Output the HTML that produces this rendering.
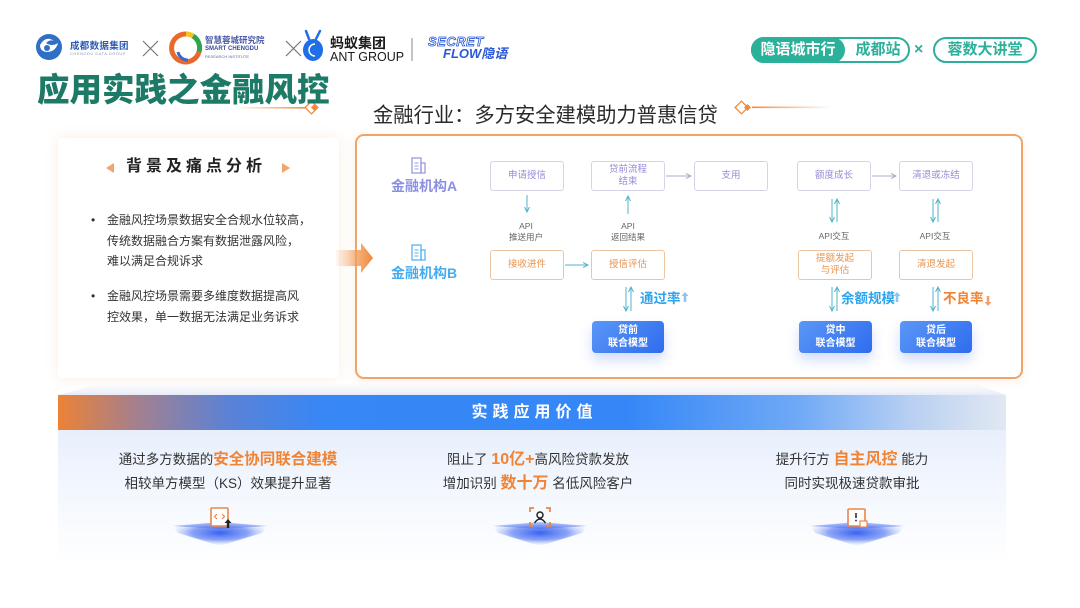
<!DOCTYPE html>
<html><head><meta charset="utf-8">
<style>
*{margin:0;padding:0;box-sizing:border-box}
html,body{width:1080px;height:608px;overflow:hidden;background:#fff}
body{position:relative;font-family:"Liberation Sans","Noto Sans CJK SC",sans-serif;color:#333}
.a{position:absolute}
.bx{position:absolute;border:1px solid #d3d4e8;border-radius:3px;background:#fff;display:flex;align-items:center;justify-content:center;text-align:center;font-size:9.5px;line-height:12px;color:#968cd6}
.bo{border-color:#ecc6a4;color:#e8934e}
.btn{position:absolute;border-radius:4px;background:linear-gradient(135deg,#5a97f7,#2f6cee);color:#fff;font-weight:bold;font-size:10px;line-height:13px;display:flex;align-items:center;justify-content:center;text-align:center;box-shadow:0 7px 12px rgba(70,120,240,0.25)}
.api{position:absolute;font-size:8.5px;line-height:11px;color:#666;text-align:center;width:60px}
.ctr{position:absolute;text-align:center;white-space:nowrap}
.or{color:#f08334;font-weight:bold}
</style></head><body>

<!-- logos -->
<svg class="a" style="left:0;top:0" width="1080" height="130">
  <circle cx="49" cy="47" r="13" fill="#2f6fc6"/>
  <path d="M40 45 q6 -10 14 -4 q-4 -2 -8 2 q6 4 12 0 q-2 8 -10 9 q-8 0 -8 -7z" fill="#fff"/>
  <circle cx="47" cy="48" r="3" fill="#2f6fc6"/>
  <line x1="143" y1="41" x2="158" y2="56" stroke="#777" stroke-width="1.2"/>
  <line x1="158" y1="41" x2="143" y2="56" stroke="#777" stroke-width="1.2"/>
  <path d="M186 34 a14 14 0 1 0 13 18" fill="none" stroke="#e8692c" stroke-width="5"/>
  <path d="M199 52 a14 14 0 0 0 -6 -16" fill="none" stroke="#2fa44a" stroke-width="5"/>
  <path d="M193 36 a14 14 0 0 0 -7 -2" fill="none" stroke="#f5c21b" stroke-width="5"/>
  <path d="M178 52 a10 10 0 0 0 10 8" fill="none" stroke="#3b66c8" stroke-width="3"/>
  <line x1="286" y1="41" x2="301" y2="56" stroke="#777" stroke-width="1.2"/>
  <line x1="301" y1="41" x2="286" y2="56" stroke="#777" stroke-width="1.2"/>
  <ellipse cx="313" cy="50" rx="10" ry="11" fill="#1f6fe8"/>
  <line x1="309" y1="39" x2="306" y2="31" stroke="#1f6fe8" stroke-width="2.5" stroke-linecap="round"/>
  <line x1="316" y1="39" x2="320" y2="31" stroke="#1f6fe8" stroke-width="2.5" stroke-linecap="round"/>
  <path d="M315 44 a6 6 0 1 0 0 12" fill="none" stroke="#fff" stroke-width="1.5"/>
  <line x1="412" y1="38" x2="412" y2="61" stroke="#888" stroke-width="1"/>
  <defs>
    <linearGradient id="ol" x1="0" x2="1"><stop offset="0" stop-color="#f08a3c" stop-opacity="0"/><stop offset="1" stop-color="#f08a3c"/></linearGradient>
    <linearGradient id="ol2" x1="0" x2="1"><stop offset="0" stop-color="#f08a3c"/><stop offset="1" stop-color="#f08a3c" stop-opacity="0"/></linearGradient>
  </defs>
  <rect x="235" y="107" width="72" height="1.6" fill="url(#ol)"/>
  <rect x="307" y="103" width="9" height="9" transform="rotate(45 311.5 107.5)" fill="#fff" stroke="#f08a3c" stroke-width="1.3"/>
  <rect x="312" y="105" width="5" height="5" transform="rotate(45 314.5 107.5)" fill="#f08a3c"/>
  <rect x="752" y="106.5" width="80" height="1.6" fill="url(#ol2)"/>
  <rect x="737" y="103" width="9" height="9" transform="rotate(45 741.5 107.5)" fill="#fff" stroke="#f08a3c" stroke-width="1.3"/>
  <rect x="745" y="105" width="5" height="5" transform="rotate(45 747.5 107.5)" fill="#f08a3c"/>
</svg>
<div class="a" style="left:70px;top:38px;font-size:9.5px;font-weight:bold;color:#2c5cb4;letter-spacing:0.3px">成都数据集团</div>
<div class="a" style="left:70px;top:51px;font-size:4px;color:#8a9ac0;letter-spacing:0.5px">CHENGDU DATA GROUP</div>
<div class="a" style="left:205px;top:34px;font-size:8.5px;color:#4a5aa8;font-weight:bold">智慧蓉城研究院</div>
<div class="a" style="left:205px;top:46px;font-size:6px;color:#3a4a98;font-weight:bold">SMART CHENGDU</div>
<div class="a" style="left:205px;top:54px;font-size:4px;color:#5a6aa8">RESEARCH INSTITUTE</div>
<div class="a" style="left:330px;top:35px;font-size:14px;font-weight:bold;color:#1a1a1a;line-height:16px">蚂蚁集团</div>
<div class="a" style="left:330px;top:50px;font-size:12.5px;color:#1a1a1a;line-height:14px">ANT GROUP</div>
<div class="a" style="left:428px;top:34px;font-size:13px;font-style:italic;font-weight:bold;color:#fff;-webkit-text-stroke:0.8px #2a58d6;line-height:15px;letter-spacing:0.5px">SECRET</div>
<div class="a" style="left:443px;top:46px;font-size:13px;font-style:italic;font-weight:bold;color:#2a58d6;line-height:15px">FLOW隐语</div>

<!-- top-right pills -->
<div class="a" style="left:751px;top:37px;width:159px;height:26px;border:2px solid #2bb09a;border-radius:13px;background:#fff"></div>
<div class="a" style="left:751px;top:37px;width:94px;height:26px;background:#2bb09a;border-radius:13px;color:#fff;font-weight:bold;font-size:15px;line-height:26px;text-align:center">隐语城市行</div>
<div class="a" style="left:848px;top:37px;width:60px;height:26px;color:#2bb09a;font-weight:bold;font-size:15px;line-height:26px;text-align:center">成都站</div>
<div class="a" style="left:914px;top:37px;font-size:16px;font-weight:bold;color:#2bb09a;line-height:26px">×</div>
<div class="a" style="left:933px;top:37px;width:104px;height:26px;border:2px solid #2bb09a;border-radius:13px;color:#2bb09a;font-weight:bold;font-size:15px;line-height:22px;text-align:center">蓉数大讲堂</div>

<!-- title -->
<div class="a" style="left:37px;top:70px;font-size:32.5px;font-weight:900;color:#1c7a67;line-height:40px">应用实践之金融风控</div>
<div class="a" style="left:373px;top:103px;font-size:20.3px;color:#2a2a2a;line-height:26px">金融行业：多方安全建模助力普惠信贷</div>

<!-- left panel -->
<div class="a" style="left:58px;top:138px;width:281px;height:240px;background:#fff;border-radius:4px;box-shadow:0 0 14px rgba(240,150,90,0.18)"></div>
<svg class="a" style="left:104px;top:160px" width="190" height="16">
  <polygon points="2,8 10,3 10,13" fill="#f3a36e"/>
  <polygon points="186,8 178,3 178,13" fill="#f3a36e"/>
</svg>
<div class="a" style="left:126px;top:156px;font-size:16px;font-weight:bold;color:#222;letter-spacing:4px;line-height:22px">背景及痛点分析</div>
<div class="a" style="left:91px;top:210px;font-size:12px;color:#333;line-height:20.7px">
  <div style="position:relative;padding-left:16px">
    <span style="position:absolute;left:0;top:0">•</span>金融风控场景数据安全合规水位较高，<br>传统数据融合方案有数据泄露风险，<br>难以满足合规诉求
  </div>
  <div style="position:relative;padding-left:16px;margin-top:14px">
    <span style="position:absolute;left:0;top:0">•</span>金融风控场景需要多维度数据提高风<br>控效果，单一数据无法满足业务诉求
  </div>
</div>

<!-- right panel -->
<div class="a" style="left:355px;top:134px;width:668px;height:245px;border:2px solid #f0a468;border-radius:9px;background:#fff;box-shadow:0 2px 10px rgba(240,150,90,0.15)"></div>

<!-- arrow between panels (on top) -->
<svg class="a" style="left:336px;top:240px" width="40" height="36">
  <defs><linearGradient id="ar" x1="0" x2="1"><stop offset="0" stop-color="#f7b080" stop-opacity="0.1"/><stop offset="0.6" stop-color="#f39a55" stop-opacity="0.8"/><stop offset="1" stop-color="#f0873a"/></linearGradient></defs>
  <polygon points="0,10 25,10 25,3 37,18 25,33 25,26 0,26" fill="url(#ar)"/>
</svg>

<!-- institution labels -->
<svg class="a" style="left:411px;top:157px" width="16" height="18">
  <rect x="1" y="1" width="9" height="15" fill="none" stroke="#9a9ae0" stroke-width="1.3"/>
  <rect x="10" y="6" width="4" height="10" fill="none" stroke="#9a9ae0" stroke-width="1.3"/>
  <line x1="3.5" y1="6" x2="7.5" y2="6" stroke="#9a9ae0"/><line x1="3.5" y1="9" x2="7.5" y2="9" stroke="#9a9ae0"/><line x1="3.5" y1="12" x2="7.5" y2="12" stroke="#9a9ae0"/>
</svg>
<div class="a" style="left:391px;top:177px;font-size:14px;font-weight:bold;color:#8b8fe0;line-height:18px">金融机构A</div>
<svg class="a" style="left:411px;top:244px" width="16" height="18">
  <rect x="1" y="1" width="9" height="15" fill="none" stroke="#5ab4ee" stroke-width="1.3"/>
  <rect x="10" y="6" width="4" height="10" fill="none" stroke="#5ab4ee" stroke-width="1.3"/>
  <line x1="3.5" y1="6" x2="7.5" y2="6" stroke="#5ab4ee"/><line x1="3.5" y1="9" x2="7.5" y2="9" stroke="#5ab4ee"/><line x1="3.5" y1="12" x2="7.5" y2="12" stroke="#5ab4ee"/>
</svg>
<div class="a" style="left:391px;top:264px;font-size:14px;font-weight:bold;color:#45acf0;line-height:18px">金融机构B</div>

<!-- row A -->
<div class="bx" style="left:490px;top:161px;width:74px;height:30px">申请授信</div>
<div class="bx" style="left:591px;top:161px;width:74px;height:30px">贷前流程<br>结束</div>
<div class="bx" style="left:694px;top:161px;width:74px;height:30px">支用</div>
<div class="bx" style="left:797px;top:161px;width:74px;height:30px">额度成长</div>
<div class="bx" style="left:899px;top:161px;width:74px;height:30px">清退或冻结</div>
<!-- row B -->
<div class="bx bo" style="left:490px;top:250px;width:74px;height:30px">接收进件</div>
<div class="bx bo" style="left:591px;top:250px;width:74px;height:30px">授信评估</div>
<div class="bx bo" style="left:798px;top:250px;width:74px;height:30px">提额发起<br>与评估</div>
<div class="bx bo" style="left:899px;top:250px;width:74px;height:30px">清退发起</div>

<div class="api" style="left:496px;top:221px">API<br>推送用户</div>
<div class="api" style="left:598px;top:221px">API<br>返回结果</div>
<div class="api" style="left:804px;top:231px">API交互</div>
<div class="api" style="left:905px;top:231px">API交互</div>

<!-- connectors -->
<svg class="a" style="left:0;top:0" width="1080" height="608">
  <defs>
    <marker id="mt" markerWidth="6" markerHeight="6" refX="5" refY="3" orient="auto" markerUnits="userSpaceOnUse"><path d="M0,0.5 L5,3 L0,5.5" fill="none" stroke="#4fb4c8" stroke-width="1"/></marker>
    <marker id="mg" markerWidth="6" markerHeight="6" refX="5" refY="3" orient="auto" markerUnits="userSpaceOnUse"><path d="M0,0.5 L5,3 L0,5.5" fill="none" stroke="#a8acc4" stroke-width="1"/></marker>
  </defs>
  <g stroke-width="1" fill="none">
    <line x1="666" y1="176" x2="691" y2="176" stroke="#a8acc4" marker-end="url(#mg)"/>
    <line x1="872" y1="176" x2="896" y2="176" stroke="#a8acc4" marker-end="url(#mg)"/>
    <line x1="565" y1="265" x2="588" y2="265" stroke="#4fb4c8" marker-end="url(#mt)"/>
    <line x1="527" y1="195" x2="527" y2="212" stroke="#4fb4c8" marker-end="url(#mt)"/>
    <line x1="628" y1="214" x2="628" y2="196" stroke="#4fb4c8" marker-end="url(#mt)"/>
    <line x1="832" y1="199" x2="832" y2="222" stroke="#4fb4c8" marker-end="url(#mt)"/>
    <line x1="837" y1="222" x2="837" y2="199" stroke="#4fb4c8" marker-end="url(#mt)"/>
    <line x1="933" y1="199" x2="933" y2="222" stroke="#4fb4c8" marker-end="url(#mt)"/>
    <line x1="938" y1="222" x2="938" y2="199" stroke="#4fb4c8" marker-end="url(#mt)"/>
    <line x1="626" y1="287" x2="626" y2="311" stroke="#4fb4c8" marker-end="url(#mt)"/>
    <line x1="631" y1="311" x2="631" y2="287" stroke="#4fb4c8" marker-end="url(#mt)"/>
    <line x1="832" y1="287" x2="832" y2="311" stroke="#4fb4c8" marker-end="url(#mt)"/>
    <line x1="837" y1="311" x2="837" y2="287" stroke="#4fb4c8" marker-end="url(#mt)"/>
    <line x1="933" y1="287" x2="933" y2="311" stroke="#4fb4c8" marker-end="url(#mt)"/>
    <line x1="938" y1="311" x2="938" y2="287" stroke="#4fb4c8" marker-end="url(#mt)"/>
  </g>
  <path d="M685 292 l-3.5 4 h2.2 v6 h2.6 v-6 h2.2z" fill="#8cc6f0"/>
  <path d="M897 292 l-3.5 4 h2.2 v6 h2.6 v-6 h2.2z" fill="#8cc6f0"/>
  <path d="M988 306 l-3.5 -4 h2.2 v-6 h2.6 v6 h2.2z" fill="#f5a070"/>
</svg>
<div class="a" style="left:640px;top:290px;font-size:13.5px;font-weight:bold;color:#2ea4ec;line-height:18px">通过率</div>
<div class="a" style="left:841px;top:290px;font-size:13.5px;font-weight:bold;color:#2ea4ec;line-height:18px">余额规模</div>
<div class="a" style="left:943px;top:290px;font-size:13.5px;font-weight:bold;color:#f08334;line-height:18px">不良率</div>

<div class="btn" style="left:592px;top:321px;width:72px;height:32px">贷前<br>联合模型</div>
<div class="btn" style="left:799px;top:321px;width:73px;height:32px">贷中<br>联合模型</div>
<div class="btn" style="left:900px;top:321px;width:72px;height:32px">贷后<br>联合模型</div>

<!-- bottom section -->
<svg class="a" style="left:0;top:378px" width="1080" height="20">
  <defs><linearGradient id="tp" x1="0" y1="0" x2="0" y2="1"><stop offset="0" stop-color="#f4f6fb" stop-opacity="0.3"/><stop offset="1" stop-color="#e6ebf6"/></linearGradient></defs>
  <polygon points="58,17 100,6 975,6 1006,17" fill="url(#tp)"/>
</svg>
<div class="a" style="left:58px;top:430px;width:948px;height:135px;background:linear-gradient(to bottom,#e8effc 0%,#f3f7fe 45%,#ffffff 100%)"></div>
<div class="a" style="left:58px;top:395px;width:948px;height:35px;background:linear-gradient(to right,#ec8236 0%,#a6808c 8%,#5b82d6 18%,#3787f6 28%,#3587f7 60%,#6fa9f6 78%,#b8d0f2 90%,#e2e8f2 100%);color:#fff;font-weight:bold;font-size:16px;letter-spacing:5px;line-height:35px;text-align:center;padding-left:5px">实践应用价值</div>

<div class="ctr" style="left:78px;width:300px;top:449px;font-size:13.5px;line-height:22px">通过多方数据的<span class="or" style="font-size:15.5px">安全协同联合建模</span></div>
<div class="ctr" style="left:78px;width:300px;top:473px;font-size:13.5px;line-height:22px">相较单方模型（KS）效果提升显著</div>
<div class="ctr" style="left:388px;width:300px;top:449px;font-size:13.5px;line-height:22px">阻止了 <span class="or" style="font-size:16px">10亿+</span>高风险贷款发放</div>
<div class="ctr" style="left:388px;width:300px;top:473px;font-size:13.5px;line-height:22px">增加识别 <span class="or" style="font-size:16px">数十万</span> 名低风险客户</div>
<div class="ctr" style="left:702px;width:300px;top:449px;font-size:13.5px;line-height:22px">提升行方 <span class="or" style="font-size:16px">自主风控</span> 能力</div>
<div class="ctr" style="left:702px;width:300px;top:473px;font-size:13.5px;line-height:22px">同时实现极速贷款审批</div>

<!-- icons with platforms -->
<svg class="a" style="left:0;top:500px" width="1080" height="60">
  <defs>
    <radialGradient id="pf" cx="0.5" cy="0.45" r="0.55"><stop offset="0" stop-color="#3a62ee"/><stop offset="0.55" stop-color="#6f8ef5" stop-opacity="0.8"/><stop offset="1" stop-color="#c8d4fb" stop-opacity="0"/></radialGradient>
    <linearGradient id="pt" x1="0" y1="0" x2="0" y2="1"><stop offset="0" stop-color="#9fb3f7"/><stop offset="1" stop-color="#4a6ef0"/></linearGradient>
  </defs>
  <polygon points="173,26 220,22 267,26 262,33 220,46 178,33" fill="url(#pf)"/>
  <polygon points="173,26 220,22 267,26 220,29" fill="url(#pt)" opacity="0.6"/>
  <polygon points="493,26 540,22 587,26 582,33 540,46 498,33" fill="url(#pf)"/>
  <polygon points="493,26 540,22 587,26 540,29" fill="url(#pt)" opacity="0.6"/>
  <polygon points="810,26 857,22 904,26 899,33 857,46 815,33" fill="url(#pf)"/>
  <polygon points="810,26 857,22 904,26 857,29" fill="url(#pt)" opacity="0.6"/>
  <rect x="211" y="8" width="17" height="18" rx="1" fill="#fff" stroke="#e8874a" stroke-width="1.6"/>
  <path d="M217 14 l-2.5 2.5 l2.5 2.5 M222 14 l2.5 2.5 l-2.5 2.5" fill="none" stroke="#e8874a" stroke-width="1.2"/>
  <path d="M228 19 l-3.5 4 h2.3 v5 h2.4 v-5 h2.3z" fill="#222"/>
  <path d="M530 12 v-4 h4 M546 8 h4 v4 M550 22 v4 h-4 M534 26 h-4 v-4" fill="none" stroke="#e8874a" stroke-width="1.8"/>
  <circle cx="540" cy="15" r="3" fill="none" stroke="#222" stroke-width="1.5"/>
  <path d="M534.5 23 q5.5 -8 11 0" fill="none" stroke="#222" stroke-width="1.5"/>
  <rect x="848" y="9" width="17" height="17" rx="1" fill="#fff" stroke="#e8874a" stroke-width="1.6"/>
  <line x1="856" y1="13" x2="856" y2="18" stroke="#222" stroke-width="1.5"/>
  <circle cx="856" cy="20.5" r="0.9" fill="#222"/>
  <rect x="860" y="21" width="7" height="6" fill="#fff" stroke="#e8874a" stroke-width="1.2"/>
</svg>

</body></html>
